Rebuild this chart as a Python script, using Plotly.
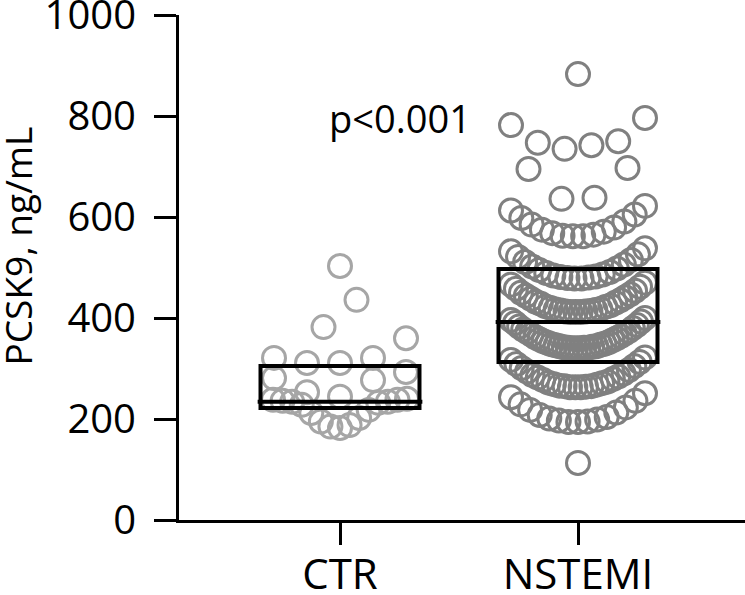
import plotly.graph_objects as go
import numpy as np

categories = ["CTR", "NSTEMI"]
ctr_values = [182, 185, 188, 195, 202, 212, 218, 228, 232, 234, 234, 236, 238, 238, 240,
              244, 253, 277, 281, 293,
              311, 311, 321, 321, 360,
              382, 436,
              503]
nstemi_values = [113,
                 194, 194, 195, 197, 199, 201, 204, 208, 213, 218, 223, 229, 236, 243, 251,
                 263, 263, 263, 264, 265, 265, 266, 268, 269, 271, 272, 274, 277, 279, 282,
                 284, 287, 290, 294, 297, 301, 305, 309, 313, 317, 322,
                 340, 340, 340, 341, 341, 341, 342, 343, 344, 344, 346, 347, 348, 349, 351,
                 352, 354, 356, 358, 360, 362, 364, 367, 369, 372, 374, 377, 380, 383, 386,
                 390, 393, 396, 400,
                 412, 412, 412, 413, 413, 414, 415, 416, 417, 418, 420, 422, 423, 425, 428,
                 430, 432, 435, 438, 441, 444, 447, 450, 454, 458, 462, 466, 470,
                 478, 478, 479, 480, 481, 482, 484, 486, 489, 491, 495, 498, 502, 506, 511,
                 515, 521, 526, 532, 538,
                 562, 562, 563, 565, 568, 571, 575, 579, 585, 591, 598, 605, 613, 622,
                 636, 638, 695, 697,
                 735, 742, 747, 750, 782, 796,
                 883]
medians = [234, 392]
q1s = [222, 313]
q3s = [305, 497]
y_ticks = [0, 200, 400, 600, 800, 1000]
p_text = "p<0.001"

PX_PER_X = 238.0
ROW_H = 62.0
MAX_SP = 33.0 / PX_PER_X
HALF_W = 67.0 / PX_PER_X


def swarm(values, center):
    vals = sorted(values)
    rows, cur = [], []
    start = None
    for v in vals:
        if start is None or v >= start + ROW_H:
            if cur:
                rows.append(cur)
            cur = [v]
            start = v
        else:
            cur.append(v)
    if cur:
        rows.append(cur)
    xs, ys = [], []
    for row in rows:
        n = len(row)
        sp = MAX_SP if n <= 1 else min(MAX_SP, 2 * HALF_W / (n - 1))
        for k, v in enumerate(row):
            if n % 2 == 1:
                if k == 0:
                    off = 0.0
                else:
                    m = (k + 1) // 2
                    off = (-m if k % 2 == 1 else m) * sp
            else:
                m = k // 2 + 0.5
                off = (-m if k % 2 == 0 else m) * sp
            xs.append(center + off)
            ys.append(v)
    return xs, ys


font_fam = "Open Sans, Lato, Arial, sans-serif"
fig = go.Figure()
colors = ["#a6a6a6", "#808080"]
for i, vals in enumerate([ctr_values, nstemi_values]):
    xs, ys = swarm(vals, i)
    fig.add_trace(go.Scatter(
        x=xs, y=ys, mode="markers",
        marker=dict(symbol="circle-open", size=23, color=colors[i],
                    line=dict(width=3, color=colors[i])),
        showlegend=False, hoverinfo="y"))

BOX_HW = 0.334
for i in range(len(categories)):
    fig.add_shape(type="rect", xref="x", yref="y", x0=i - BOX_HW, x1=i + BOX_HW,
                  y0=q1s[i], y1=q3s[i], line=dict(color="black", width=4))
    fig.add_shape(type="line", xref="x", yref="y", x0=i - BOX_HW - 0.012,
                  x1=i + BOX_HW + 0.012, y0=medians[i], y1=medians[i],
                  line=dict(color="black", width=4))

fig.add_annotation(x=0.25, y=796, xref="x", yref="y", text=p_text, showarrow=False,
                   xanchor="center", yanchor="middle",
                   font=dict(family=font_fam, size=38, color="black"))
fig.add_annotation(x=-0.285, y=0.543, xref="paper", yref="paper", text="PCSK9, ng/mL",
                   textangle=-90, showarrow=False, xanchor="center", yanchor="middle",
                   font=dict(family=font_fam, size=37, color="black"))

fig.update_layout(
    width=745, height=595,
    margin=dict(l=179, r=0, t=15, b=75, autoexpand=False),
    paper_bgcolor="white", plot_bgcolor="white",
    font=dict(family=font_fam, size=40, color="black"),
    xaxis=dict(range=[-0.6765, 1.7017], tickvals=[0, 1], ticktext=categories,
               automargin=False,
               showgrid=False, zeroline=False, showline=True, linecolor="black",
               linewidth=3, ticks="outside", ticklen=22, tickwidth=3,
               tickcolor="black", ticklabelstandoff=-6, ticklabeloverflow="allow",
               tickfont=dict(family=font_fam, size=42, color="black")),
    yaxis=dict(range=[0, 1000], tickvals=y_ticks, showgrid=False, zeroline=False,
               automargin=False,
               showline=True, linecolor="black", linewidth=3, ticks="outside",
               ticklen=22, tickwidth=3, tickcolor="black", ticklabelstandoff=10,
               ticklabeloverflow="allow",
               tickfont=dict(family=font_fam, size=40, color="black")),
)

fig.write_html("out.html", config={"displayModeBar": False},
               post_script="document.body.style.margin='0';")
